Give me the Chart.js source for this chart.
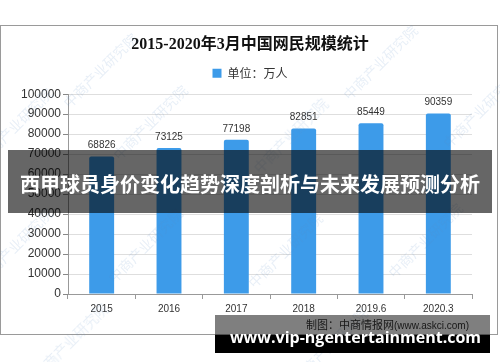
<!DOCTYPE html>
<html>
<head>
<meta charset="utf-8">
<script src="https://cdn.jsdelivr.net/npm/chart.js@4/dist/chart.umd.min.js"></script>
<style>
  body { margin: 0; background: #fff; }
  #wrap { position: relative; width: 500px; height: 362px; overflow: hidden; }
  #chart { position: absolute; left: 0; top: 0; }
  .wm { position: absolute; font: 14px "Noto Sans CJK SC"; color: rgba(90, 140, 200, 0.14);
        transform: translate(-50%, -50%) rotate(-45deg); white-space: nowrap; pointer-events: none; }
  #band { position: absolute; left: 8px; top: 150px; width: 484px; height: 63px;
          background: rgba(0, 0, 0, 0.6); color: #fff; text-align: center;
          font: bold 20px "Noto Sans CJK SC"; line-height: 68px; }
  #source { position: absolute; left: 306px; top: 317px; font: 11px "Noto Sans CJK SC"; color: #333; line-height: 15px; }
  #source span { font-family: "Liberation Sans"; font-size: 10px; }
  #grey { position: absolute; left: 215px; top: 315px; width: 275px; height: 20px; background: rgba(0, 0, 0, 0.5); }
  #black { position: absolute; left: 215px; top: 335px; width: 275px; height: 18px; background: #000; }
  #url { position: absolute; left: 218px; top: 327px; width: 275px; text-align: center;
         font: bold 16px "Open Sans"; line-height: 20px; color: #fff; }
</style>
</head>
<body>
<div id="wrap">
  <canvas id="chart" width="500" height="362"></canvas>
  <div id="marks"></div>
  <div id="band">西甲球员身价变化趋势深度剖析与未来发展预测分析</div>
  <div id="source">制图：中商情报网<span>(www.askci.com)</span></div>
  <div id="grey"></div>
  <div id="black"></div>
  <div id="url">www.vip-ngentertainment.com</div>
</div>
<script>
// 数据
const years = ["2015", "2016", "2017", "2018", "2019.6", "2020.3"];
const netizens = [68826, 73125, 77198, 82851, 85449, 90359];
const yTicks = [0, 10000, 20000, 30000, 40000, 50000, 60000, 70000, 80000, 90000, 100000];
const seriesName = "单位：万人";
const chartTitle = "2015-2020年3月中国网民规模统计";

// 水印
const wmSpots = [[100, 70], [380, 62], [15, 125], [150, 122], [290, 135], [480, 110],
                 [15, 245], [145, 245], [285, 250], [425, 240], [70, 340], [330, 345]];
const marks = document.getElementById("marks");
wmSpots.forEach(([x, y]) => {
    const s = document.createElement("span");
    s.className = "wm";
    s.textContent = "中商产业研究院";
    s.style.left = x + "px";
    s.style.top = y + "px";
    marks.appendChild(s);
});

// 外框 + 白底
const framePlugin = {
    id: "frame",
    beforeDraw(chart) {
        const ctx = chart.ctx;
        ctx.save();
        ctx.fillStyle = "#fff";
        ctx.fillRect(0, 0, chart.width, chart.height);
        ctx.strokeStyle = "#9a9a9a";
        ctx.lineWidth = 1;
        ctx.strokeRect(0.5, 25.5, 497, 309);
        ctx.restore();
    }
};

// 柱顶数值
const valueLabels = {
    id: "valueLabels",
    afterDatasetsDraw(chart) {
        const ctx = chart.ctx;
        const meta = chart.getDatasetMeta(0);
        ctx.save();
        ctx.font = "10px 'Liberation Sans'";
        ctx.fillStyle = "#333";
        ctx.textAlign = "center";
        ctx.textBaseline = "alphabetic";
        meta.data.forEach((bar, i) => {
            ctx.fillText(String(netizens[i]), bar.x, bar.y - 8);
        });
        ctx.restore();
    }
};

new Chart(document.getElementById("chart").getContext("2d"), {
    type: "bar",
    data: {
        labels: years,
        datasets: [{
            label: seriesName,
            data: netizens,
            backgroundColor: "#3d9be9",
            borderRadius: { topLeft: 2, topRight: 2 },
            barPercentage: 0.37,
            categoryPercentage: 1
        }]
    },
    options: {
        responsive: false,
        animation: false,
        devicePixelRatio: 1,
        layout: { padding: 0 },
        plugins: {
            title: {
                display: true,
                text: chartTitle,
                color: "#111",
                font: { size: 16, weight: "bold", family: "'Liberation Serif', 'Noto Sans CJK SC'" },
                padding: { top: 35, bottom: 0 }
            },
            legend: {
                display: true,
                labels: {
                    boxWidth: 9,
                    boxHeight: 9,
                    color: "#333",
                    padding: 13,
                    font: { size: 12, family: "'Noto Sans CJK SC'" }
                }
            },
            tooltip: { enabled: false }
        },
        scales: {
            x: {
                grid: { drawOnChartArea: false, drawTicks: true, tickLength: 5, color: "#999" },
                border: { color: "#999" },
                ticks: { color: "#333", padding: 4, font: { size: 10, family: "'Liberation Sans'" } },
                afterFit: s => { s.height = 68; }
            },
            padTop: {
                position: "top",
                grid: { display: false },
                border: { display: false },
                ticks: { display: false },
                afterFit: s => { s.height = 5; }
            },
            y: {
                min: 0,
                max: 100000,
                afterBuildTicks: s => { s.ticks = yTicks.map(v => ({ value: v })); },
                grid: { color: "#dedede", tickColor: "#888", tickLength: 5 },
                border: { color: "#999" },
                ticks: {
                    color: "#333",
                    padding: 2,
                    font: { size: 12, family: "'Liberation Sans'" },
                    callback: v => String(v)
                },
                afterFit: s => { s.width = 68; }
            },
            pad: {
                position: "right",
                grid: { display: false },
                border: { display: false },
                ticks: { display: false },
                afterFit: s => { s.width = 28; }
            }
        }
    },
    plugins: [framePlugin, valueLabels]
});
</script>
</body>
</html>
